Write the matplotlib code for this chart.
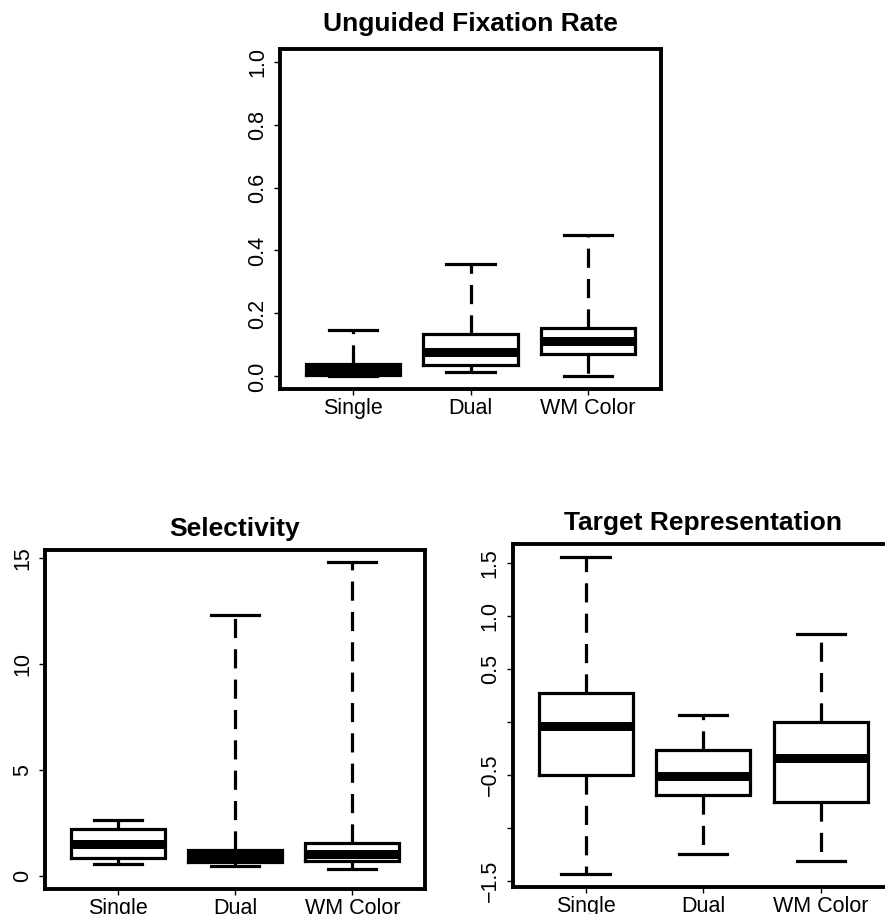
import matplotlib
matplotlib.use("Agg")
import matplotlib.pyplot as plt

plt.rcParams['font.family'] = ['Liberation Sans', 'DejaVu Sans']

conditions = ['Single', 'Dual', 'WM Color']

# five-number summaries: low whisker, q1, median, q3, high whisker
fix_low = [0.0, 0.014, 0.0]
fix_q1 = [0.005, 0.035, 0.072]
fix_med = [0.02, 0.077, 0.114]
fix_q3 = [0.038, 0.136, 0.155]
fix_high = [0.146, 0.356, 0.448]

sel_low = [0.57, 0.47, 0.36]
sel_q1 = [0.87, 0.68, 0.71]
sel_med = [1.54, 0.95, 1.07]
sel_q3 = [2.22, 1.23, 1.59]
sel_high = [2.64, 12.35, 14.81]

tgt_low = [-1.437, -1.248, -1.311]
tgt_q1 = [-0.507, -0.696, -0.759]
tgt_med = [-0.038, -0.510, -0.343]
tgt_q3 = [0.271, -0.265, -0.006]
tgt_high = [1.553, 0.066, 0.825]


def stats(low, q1, med, q3, high):
    out = []
    for i in range(len(conditions)):
        out.append({'whislo': low[i], 'q1': q1[i], 'med': med[i], 'q3': q3[i],
                    'whishi': high[i], 'fliers': [], 'label': conditions[i]})
    return out


def r_boxplot(ax, st, title, ylim, yticks, yticklabels, title_pad=10):
    ax.bxp(st, positions=[1, 2, 3], widths=0.8, capwidths=0.41, showfliers=False,
           boxprops=dict(linewidth=2.3, color='black', solid_joinstyle='miter'),
           medianprops=dict(linewidth=6.5, color='black', solid_capstyle='butt'),
           whiskerprops=dict(linewidth=2.3, color='black', linestyle=(0, (6, 3.5))),
           capprops=dict(linewidth=2.3, color='black'))
    ax.set_xlim(0.38, 3.62)
    ax.set_ylim(*ylim)
    ax.set_yticks(yticks)
    ax.set_yticklabels(yticklabels, rotation=90, va='center')
    ax.set_xticks([1, 2, 3])
    ax.set_xticklabels(conditions)
    ax.tick_params(axis='both', labelsize=15.5, length=4.5, width=1, direction='out')
    ax.tick_params(axis='y', pad=4)
    ax.tick_params(axis='x', pad=2)
    for s in ax.spines.values():
        s.set_linewidth(2.8)
    ax.set_title(title, fontsize=19, fontweight='bold', pad=title_pad)


fig = plt.figure(figsize=(8.85, 9.14), dpi=100)

ax1 = fig.add_axes([0.3164, 0.5744, 0.4305, 0.372])
r_boxplot(ax1, stats(fix_low, fix_q1, fix_med, fix_q3, fix_high),
          'Unguided Fixation Rate', (-0.04, 1.04),
          [0, 0.2, 0.4, 0.6, 0.8, 1.0], ['0.0', '0.2', '0.4', '0.6', '0.8', '1.0'],
          title_pad=13)

ax2 = fig.add_axes([0.0508, 0.0274, 0.4294, 0.3709])
r_boxplot(ax2, stats(sel_low, sel_q1, sel_med, sel_q3, sel_high),
          'Selectivity', (-0.6, 15.4), [0, 5, 10, 15], ['0', '5', '10', '15'])

ax3 = fig.add_axes([0.5793, 0.0299, 0.4305, 0.3746])
r_boxplot(ax3, stats(tgt_low, tgt_q1, tgt_med, tgt_q3, tgt_high),
          'Target Representation', (-1.557, 1.673),
          [-1.5, -1.0, -0.5, 0, 0.5, 1.0, 1.5],
          ['\u22121.5', '', '\u22120.5', '', '0.5', '1.0', '1.5'])

fig.savefig('out.png', dpi=100)
